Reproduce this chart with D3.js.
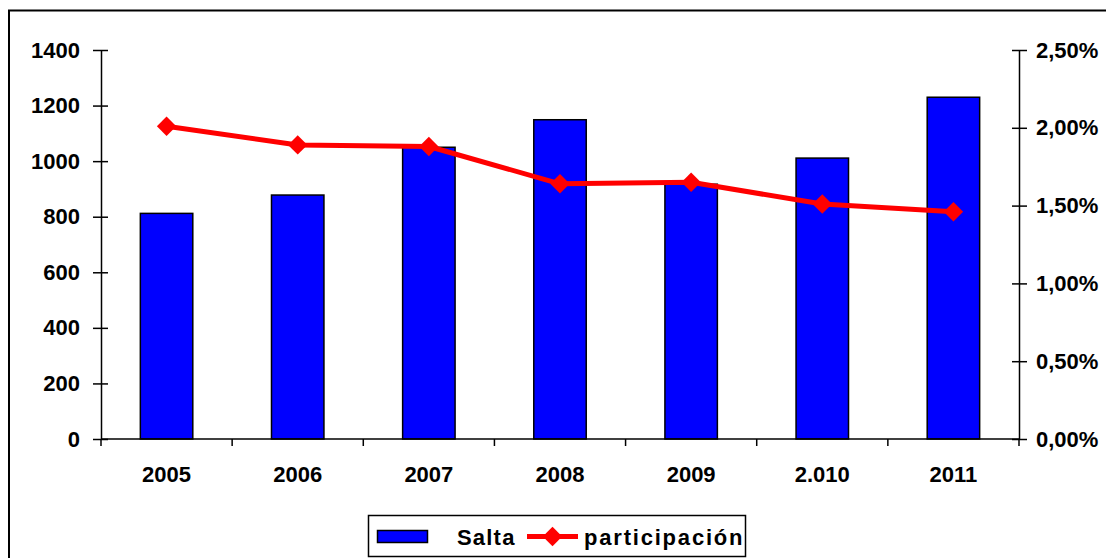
<!DOCTYPE html>
<html>
<head>
<meta charset="utf-8">
<script src="https://cdn.jsdelivr.net/npm/d3@7"></script>
<style>
  body { margin: 0; background: #fff; }
  text { font-family: "Liberation Sans", Arial, sans-serif; font-weight: bold; fill: #000; }
</style>
</head>
<body>
<div id="chart"></div>
<script>
// data
var years = ["2005", "2006", "2007", "2008", "2009", "2.010", "2011"];
var salta = [812, 878, 1050, 1149, 917, 1011, 1230];
var participacion = [0.0201, 0.0189, 0.0188, 0.0164, 0.0165, 0.0151, 0.0146];
var leftTicks = [0, 200, 400, 600, 800, 1000, 1200, 1400];
var rightTicks = [0, 0.005, 0.01, 0.015, 0.02, 0.025];

var svgWidth = 1106;
var svgHeight = 558;

var margin = { top: 50, right: 87, bottom: 119, left: 101 };
var width = svgWidth - margin.left - margin.right;
var height = svgHeight - margin.top - margin.bottom;

var svg = d3.select("#chart")
  .append("svg")
  .attr("width", svgWidth)
  .attr("height", svgHeight);

// outer frame (runs off right and bottom)
svg.append("rect")
  .attr("x", 9)
  .attr("y", 10.5)
  .attr("width", 1120)
  .attr("height", 600)
  .attr("fill", "none")
  .attr("stroke", "#000")
  .attr("stroke-width", 2);

var chartGroup = svg.append("g")
  .attr("transform", `translate(${margin.left}, ${margin.top})`);

// scales
var xScale = d3.scaleBand()
  .domain(years)
  .range([0, width])
  .paddingInner(0.6)
  .paddingOuter(0.3);

var yLeft = d3.scaleLinear().domain([0, 1400]).range([height, 0]);
var yRight = d3.scaleLinear().domain([0, 0.025]).range([height, 0]);

// bars
chartGroup.selectAll(".bar")
  .data(salta)
  .enter()
  .append("rect")
  .attr("class", "bar")
  .attr("x", (d, i) => xScale(years[i]))
  .attr("y", d => yLeft(d))
  .attr("width", xScale.bandwidth())
  .attr("height", d => height - yLeft(d))
  .attr("fill", "#0000ff")
  .attr("stroke", "#000")
  .attr("stroke-width", 1.5);

// left axis
var leftAxis = d3.axisLeft(yLeft)
  .tickValues(leftTicks)
  .tickFormat(d3.format("d"))
  .tickSizeOuter(0)
  .tickPadding(0);

var gLeft = chartGroup.append("g").call(leftAxis);
gLeft.select(".domain").attr("stroke", "#000").attr("stroke-width", 1.5);
gLeft.selectAll(".tick line").attr("x1", -8).attr("x2", 7).attr("stroke-width", 1.5);
gLeft.selectAll(".tick text")
  .attr("x", -21)
  .style("font-size", "22px");

// right axis
var rightAxis = d3.axisRight(yRight)
  .tickValues(rightTicks)
  .tickSizeOuter(0)
  .tickFormat(d => d3.format(".2f")(d * 100).replace(".", ",") + "%");

var gRight = chartGroup.append("g")
  .attr("transform", `translate(${width}, 0)`)
  .call(rightAxis);
gRight.select(".domain").attr("stroke", "#000").attr("stroke-width", 1.5);
gRight.selectAll(".tick line").attr("x1", -7).attr("x2", 8).attr("stroke-width", 1.5);
gRight.selectAll(".tick text")
  .attr("x", 17)
  .style("font-size", "22px");

// bottom axis: ticks at category boundaries
var xBound = d3.scaleLinear().domain([0, years.length]).range([0, width]);
var gBottom = chartGroup.append("g")
  .attr("transform", `translate(0, ${height})`);

gBottom.append("line")
  .attr("x1", 0).attr("x2", width)
  .attr("stroke", "#000").attr("stroke-width", 1.5);

gBottom.selectAll(".xtick")
  .data(d3.range(years.length + 1))
  .enter()
  .append("line")
  .attr("class", "xtick")
  .attr("x1", d => xBound(d))
  .attr("x2", d => xBound(d))
  .attr("y1", 0)
  .attr("y2", 7)
  .attr("stroke", "#000")
  .attr("stroke-width", 1.5);

gBottom.selectAll(".xlabel")
  .data(years)
  .enter()
  .append("text")
  .attr("class", "xlabel")
  .attr("x", d => xScale(d) + xScale.bandwidth() / 2)
  .attr("y", 43)
  .attr("text-anchor", "middle")
  .style("font-size", "22px")
  .text(d => d);

// line series
var line = d3.line()
  .x((d, i) => xScale(years[i]) + xScale.bandwidth() / 2)
  .y(d => yRight(d));

chartGroup.append("path")
  .datum(participacion)
  .attr("d", line)
  .attr("fill", "none")
  .attr("stroke", "#ff0000")
  .attr("stroke-width", 5)
  .attr("stroke-linejoin", "round");

var diamond = d3.symbol().type(d3.symbolDiamond2).size(240);

chartGroup.selectAll(".marker")
  .data(participacion)
  .enter()
  .append("path")
  .attr("class", "marker")
  .attr("d", diamond)
  .attr("transform", (d, i) => `translate(${xScale(years[i]) + xScale.bandwidth() / 2}, ${yRight(d)})`)
  .attr("fill", "#ff0000");

// legend
var legend = svg.append("g");
legend.append("rect")
  .attr("x", 368.5).attr("y", 515.5)
  .attr("width", 377).attr("height", 41)
  .attr("fill", "#fff")
  .attr("stroke", "#000")
  .attr("stroke-width", 1.5);

legend.append("rect")
  .attr("x", 377.5).attr("y", 530.5)
  .attr("width", 50).attr("height", 12)
  .attr("fill", "#0000ff")
  .attr("stroke", "#000")
  .attr("stroke-width", 1.5);

legend.append("text")
  .attr("x", 457).attr("y", 545)
  .style("font-size", "22px")
  .style("letter-spacing", "1.2px")
  .text("Salta");

legend.append("line")
  .attr("x1", 527).attr("x2", 578)
  .attr("y1", 536.5).attr("y2", 536.5)
  .attr("stroke", "#ff0000")
  .attr("stroke-width", 5);

legend.append("path")
  .attr("d", diamond)
  .attr("transform", "translate(552.5, 536.5)")
  .attr("fill", "#ff0000");

legend.append("text")
  .attr("x", 584).attr("y", 545)
  .style("font-size", "22px")
  .style("letter-spacing", "1.8px")
  .text("participación");
</script>
</body>
</html>
